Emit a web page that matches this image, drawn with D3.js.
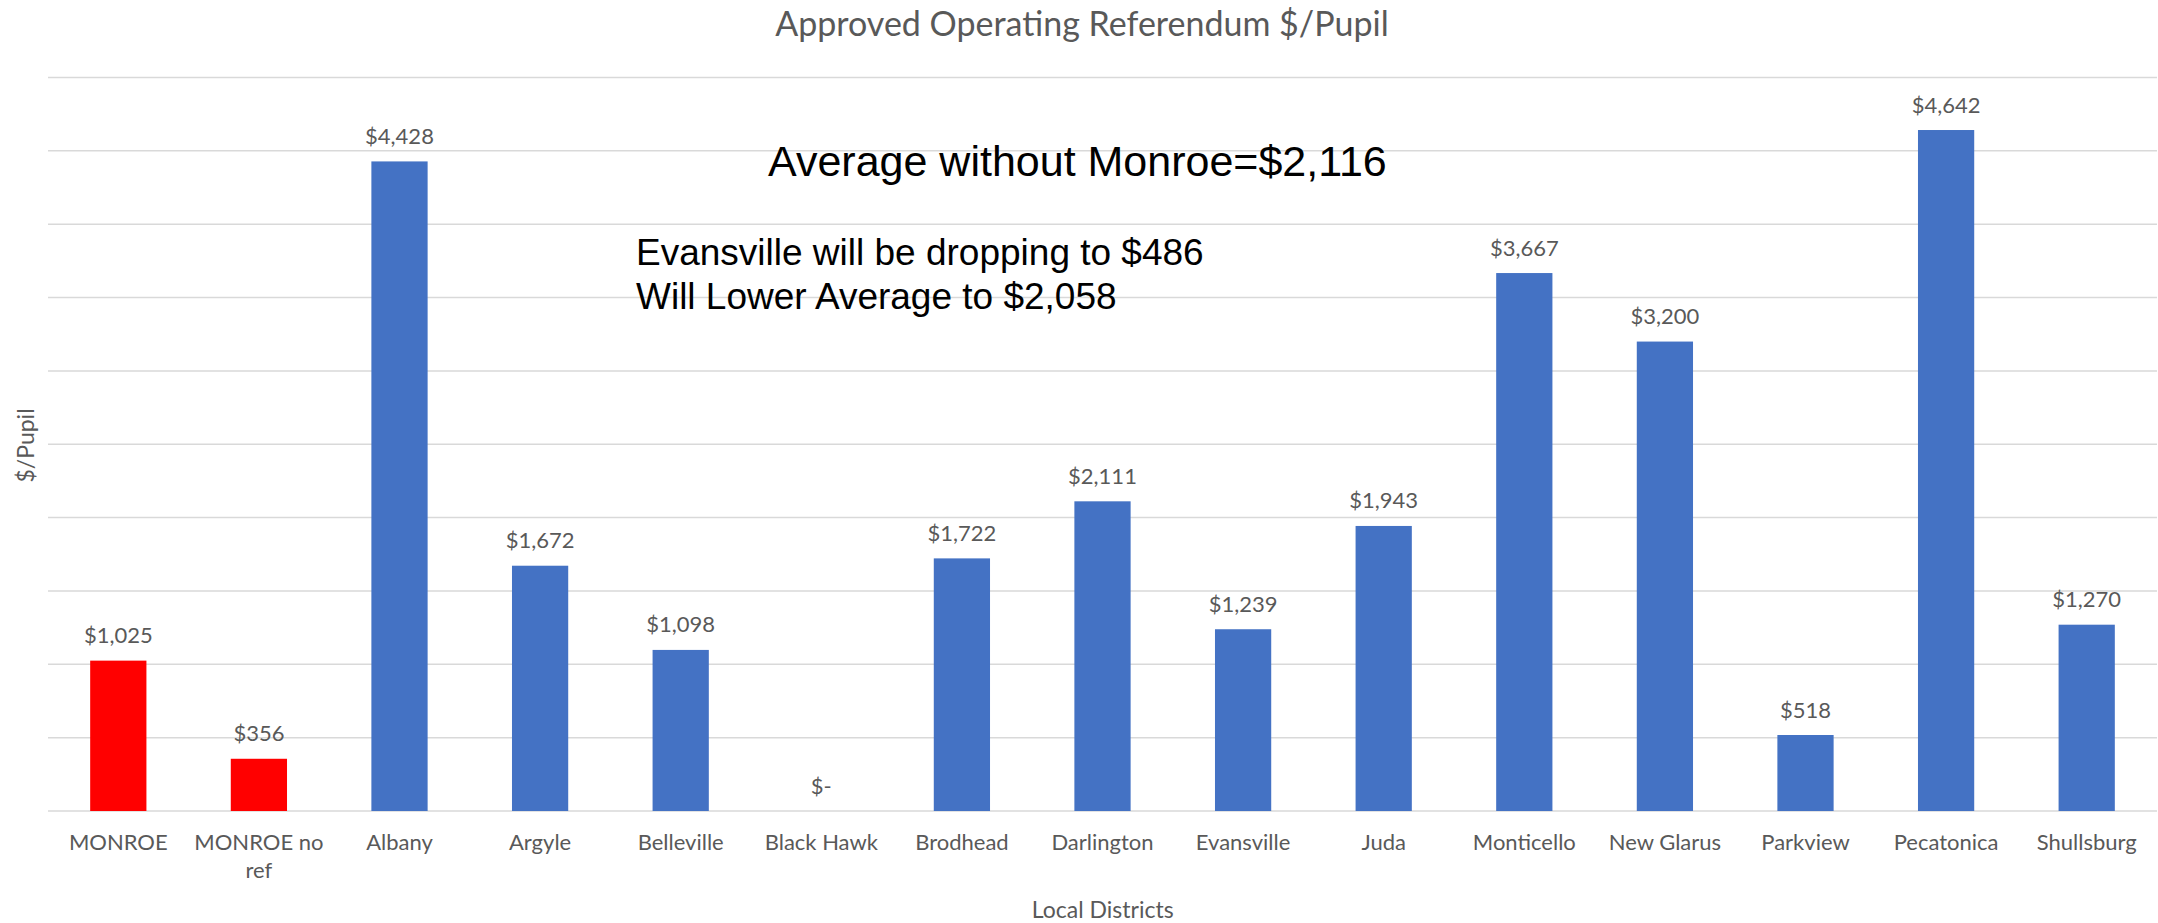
<!DOCTYPE html>
<html lang="en">
<head>
  <meta charset="UTF-8">
  <title>Approved Operating Referendum $/Pupil</title>
  <script src="https://d3js.org/d3.v7.min.js"></script>
  <style>
    html, body { margin: 0; padding: 0; background: #fff; overflow: hidden; }
    svg { display: block; }
    .lbl { font-family: Lato, "Open Sans", sans-serif; fill: #595959; }
    .note { font-family: "Liberation Sans", Arial, sans-serif; fill: #000; }
  </style>
</head>
<body>
<div id="chart"></div>
<script>
  // data
  const districts = ["MONROE", "MONROE no ref", "Albany", "Argyle", "Belleville", "Black Hawk",
    "Brodhead", "Darlington", "Evansville", "Juda", "Monticello", "New Glarus",
    "Parkview", "Pecatonica", "Shullsburg"];
  const perPupil = [1025, 356, 4428, 1672, 1098, 0, 1722, 2111, 1239, 1943, 3667, 3200, 518, 4642, 1270];
  const highlighted = ["MONROE", "MONROE no ref"];
  const yTicks = [0, 500, 1000, 1500, 2000, 2500, 3000, 3500, 4000, 4500, 5000];
  const averageNote = ["Average without Monroe=$2,116"];
  const evansvilleNote = ["Evansville will be dropping to $486", "Will Lower Average to $2,058"];

  const width = 2158, height = 923;
  const plot = { left: 48, right: 2157, top: 77.5, bottom: 811 };

  const svg = d3.select("#chart").append("svg")
    .attr("width", width)
    .attr("height", height);

  const x = d3.scaleBand()
    .domain(districts)
    .range([plot.left, plot.right])
    .paddingInner(0.6)
    .paddingOuter(0.3);

  const y = d3.scaleLinear()
    .domain([0, 5000])
    .range([plot.bottom, plot.top]);

  // gridlines (no tick labels in the original)
  svg.append("g")
    .selectAll("line")
    .data(yTicks)
    .enter().append("line")
    .attr("x1", plot.left)
    .attr("x2", plot.right)
    .attr("y1", d => y(d))
    .attr("y2", d => y(d))
    .attr("stroke", "#d9d9d9")
    .attr("stroke-width", 1.5);

  const data = districts.map((d, i) => ({ name: d, value: perPupil[i] }));

  // bars
  svg.append("g")
    .selectAll("rect")
    .data(data)
    .enter().append("rect")
    .attr("x", d => x(d.name))
    .attr("width", x.bandwidth())
    .attr("y", d => y(d.value))
    .attr("height", d => y(0) - y(d.value))
    .attr("fill", d => highlighted.includes(d.name) ? "#ff0000" : "#4472c4");

  // data labels
  const fmt = d3.format(",");
  svg.append("g")
    .selectAll("text")
    .data(data)
    .enter().append("text")
    .attr("class", "lbl")
    .attr("x", d => x(d.name) + x.bandwidth() / 2)
    .attr("y", d => y(d.value) - 17.5)
    .attr("text-anchor", "middle")
    .style("font-size", "22px")
    .text(d => d.value === 0 ? "$-" : "$" + fmt(d.value));

  // category labels, wrapped like the original
  const cats = svg.append("g")
    .selectAll("text")
    .data(districts)
    .enter().append("text")
    .attr("class", "lbl")
    .attr("text-anchor", "middle")
    .style("font-size", "22px")
    .attr("transform", d => `translate(${x(d) + x.bandwidth() / 2},849.5)`);

  cats.each(function(d) {
    const t = d3.select(this);
    const words = d.split(" ");
    let lines = [], line = [];
    const probe = t.append("tspan");
    words.forEach(w => {
      line.push(w);
      probe.text(line.join(" "));
      if (probe.node().getComputedTextLength() > x.step() - 10 && line.length > 1) {
        line.pop();
        lines.push(line.join(" "));
        line = [w];
      }
    });
    lines.push(line.join(" "));
    probe.remove();
    lines.forEach((l, i) => {
      t.append("tspan").attr("x", 0).attr("dy", i === 0 ? 0 : 28.5).text(l);
    });
  });

  // title and axis titles
  svg.append("text")
    .attr("class", "lbl")
    .attr("x", 1082)
    .attr("y", 36)
    .attr("text-anchor", "middle")
    .style("font-size", "34px")
    .text("Approved Operating Referendum $/Pupil");

  svg.append("text")
    .attr("class", "lbl")
    .attr("transform", "translate(33.5,445.5) rotate(-90)")
    .attr("text-anchor", "middle")
    .style("font-size", "23px")
    .text("$/Pupil");

  svg.append("text")
    .attr("class", "lbl")
    .attr("x", 1102.7)
    .attr("y", 918)
    .attr("text-anchor", "middle")
    .style("font-size", "23px")
    .text("Local Districts");

  // annotations
  svg.append("text")
    .attr("class", "note")
    .attr("x", 768)
    .attr("y", 176)
    .style("font-size", "43px")
    .text(averageNote[0]);

  svg.append("g")
    .selectAll("text")
    .data(evansvilleNote)
    .enter().append("text")
    .attr("class", "note")
    .attr("x", 636)
    .attr("y", (d, i) => 265 + i * 43.5)
    .style("font-size", "37px")
    .text(d => d);
</script>
</body>
</html>
